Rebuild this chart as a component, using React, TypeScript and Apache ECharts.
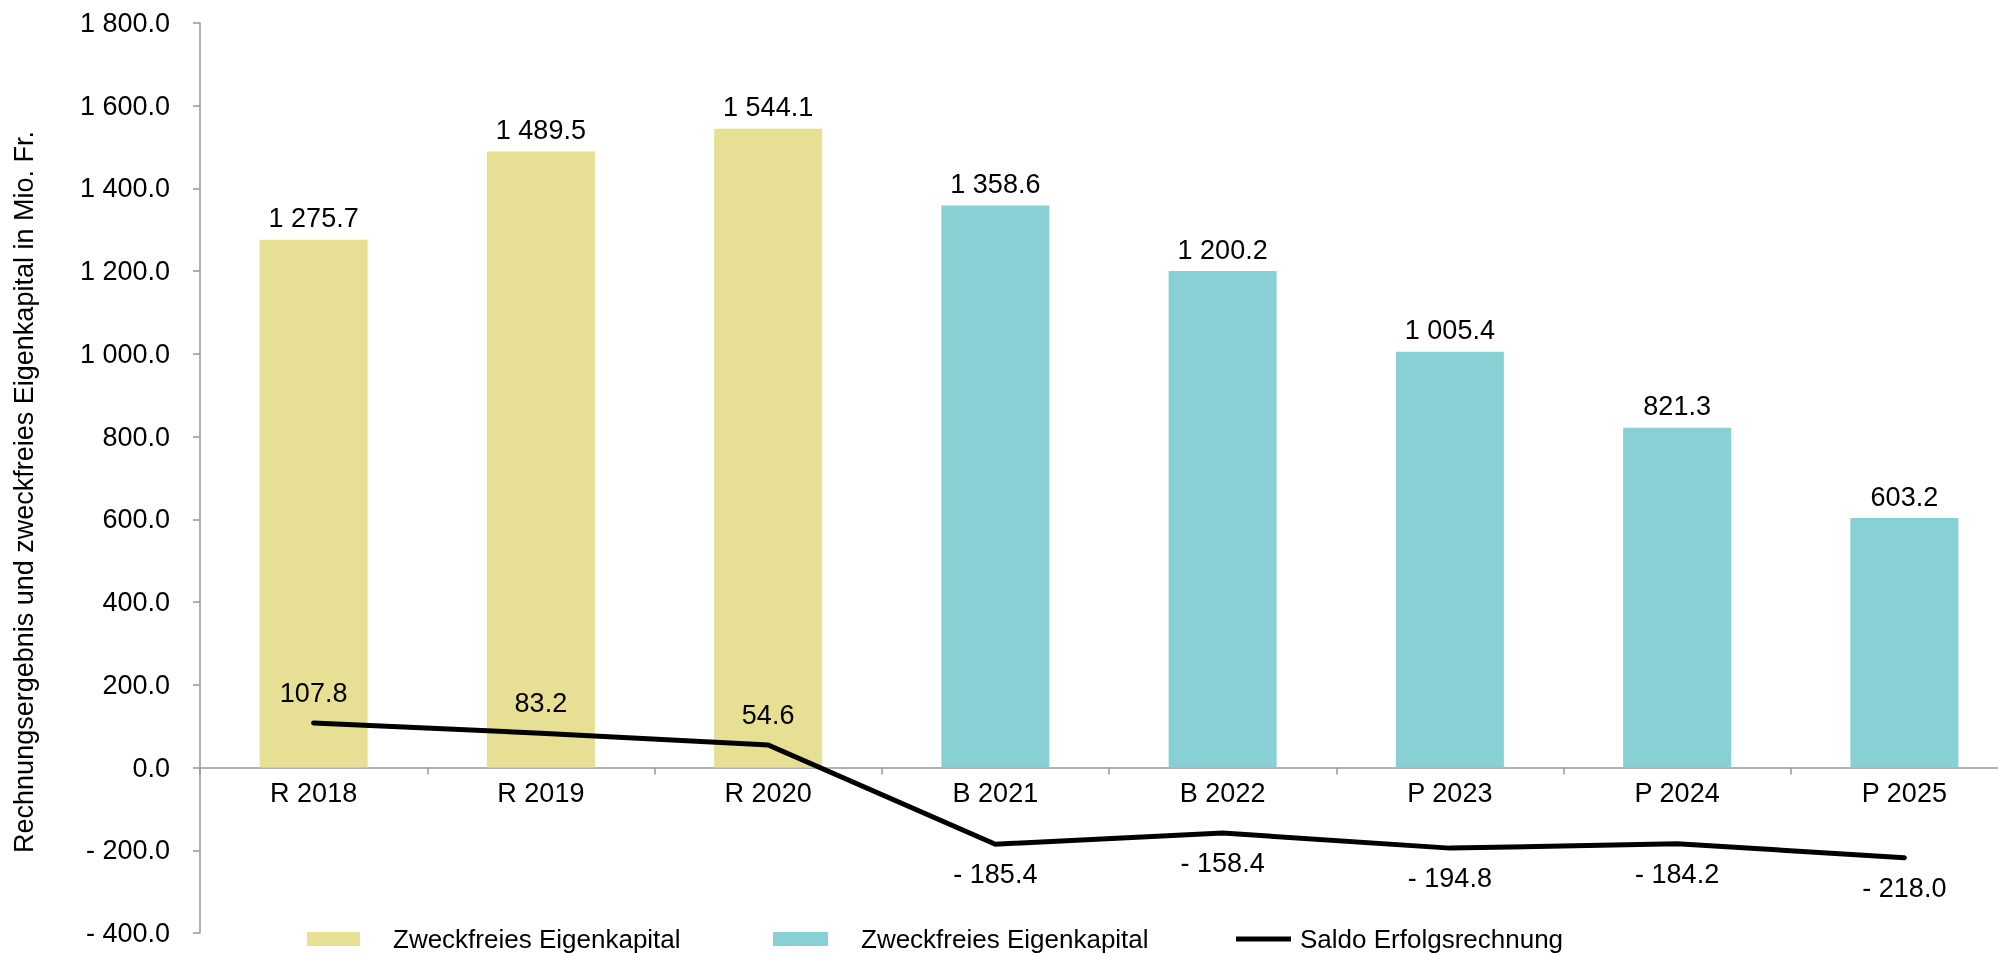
import React, { useEffect, useRef } from "react";
import * as echarts from "echarts";

const categories = ["R 2018", "R 2019", "R 2020", "B 2021", "B 2022", "P 2023", "P 2024", "P 2025"];
const eigenkapitalR = [1275.7, 1489.5, 1544.1, null, null, null, null, null];
const eigenkapitalBP = [null, null, null, 1358.6, 1200.2, 1005.4, 821.3, 603.2];
const saldo = [107.8, 83.2, 54.6, -185.4, -158.4, -194.8, -184.2, -218.0];
const yTicks = { min: -400, max: 1800, interval: 200 };
const yTitle = "Rechnungsergebnis und zweckfreies Eigenkapital in Mio. Fr.";

const FONT = "'Liberation Sans', Arial, sans-serif";
const FS = 27;

function fmt(v: number): string {
  const s = Math.abs(v).toFixed(1);
  const [i, d] = s.split(".");
  const ii = i.replace(/\B(?=(\d{3})+(?!\d))/g, " ");
  return (v < 0 ? "- " : "") + ii + "." + d;
}

export default function App() {
  const ref = useRef<HTMLDivElement>(null);
  useEffect(() => {
    if (!ref.current) return;
    const chart = echarts.init(ref.current, undefined, { renderer: "svg" });
    const yellow = "#E6DF94";
    const teal = "#87D0D4";
    const H = 953;
    const top = 23;
    const bottom = 20;
    const plotH = H - top - bottom;
    const zeroFromBottom = ((0 - yTicks.min) / (yTicks.max - yTicks.min)) * plotH;
    const legendText = { fontFamily: FONT, fontSize: 26, color: "#000", padding: [0, 0, 0, 28], lineHeight: 26 };
    const legendFmt = (n: string) => (n.startsWith("Zweckfreies") ? "Zweckfreies Eigenkapital" : n);
    const legendBase = { top: 926, padding: 0, selectedMode: false, textStyle: legendText, formatter: legendFmt };
    chart.setOption({
      animation: false,
      textStyle: { fontFamily: FONT },
      grid: { left: 200, right: -20, top, bottom, containLabel: false, outerBoundsMode: "none" },
      graphic: [
        {
          type: "text",
          x: 24,
          y: 492,
          rotation: Math.PI / 2,
          style: {
            text: yTitle,
            fill: "#000",
            font: `27px ${FONT}`,
            textAlign: "center",
            textVerticalAlign: "middle",
          },
        },
      ],
      legend: [
        {
          ...legendBase,
          data: [{ name: "Zweckfreies Eigenkapital R", icon: "rect" }],
          left: 307, itemWidth: 53, itemHeight: 14,
        },
        {
          ...legendBase,
          data: [{ name: "Zweckfreies Eigenkapital BP", icon: "rect" }],
          left: 773, itemWidth: 55, itemHeight: 14,
        },
        {
          ...legendBase,
          data: [{ name: "Saldo Erfolgsrechnung", icon: "rect" }],
          left: 1236, itemWidth: 55, itemHeight: 5,
          textStyle: { ...legendText, padding: [0, 0, 0, 4] },
        },
      ],
      xAxis: {
        type: "category",
        data: categories,
        position: "bottom",
        offset: -zeroFromBottom,
        axisLine: { onZero: false, lineStyle: { color: "#999", width: 1.5 } },
        axisTick: { show: true, inside: false, length: 7, alignWithLabel: false, lineStyle: { color: "#999", width: 1.5 } },
        axisLabel: { color: "#000", fontSize: FS, fontFamily: FONT, margin: 12 },
        splitLine: { show: false },
      },
      yAxis: {
        type: "value",
        min: yTicks.min,
        max: yTicks.max,
        interval: yTicks.interval,
        axisLine: { show: true, lineStyle: { color: "#999", width: 1.5 } },
        axisTick: { show: true, length: 7, lineStyle: { color: "#999", width: 1.5 } },
        axisLabel: { color: "#000", fontSize: FS, fontFamily: FONT, margin: 30, formatter: (v: number) => fmt(v) },
        splitLine: { show: false },
      },
      series: [
        {
          name: "Zweckfreies Eigenkapital R",
          type: "bar",
          data: eigenkapitalR,
          barWidth: 108,
          barGap: "-100%",
          itemStyle: { color: yellow },
          label: { show: true, position: "top", distance: 8, color: "#000", fontSize: FS, fontFamily: FONT, formatter: (p: any) => fmt(p.value) },
        },
        {
          name: "Zweckfreies Eigenkapital BP",
          type: "bar",
          data: eigenkapitalBP,
          barWidth: 108,
          barGap: "-100%",
          itemStyle: { color: teal },
          label: { show: true, position: "top", distance: 8, color: "#000", fontSize: FS, fontFamily: FONT, formatter: (p: any) => fmt(p.value) },
        },
        {
          name: "Saldo Erfolgsrechnung",
          type: "line",
          data: saldo.map((v) => ({
            value: v,
            label: { position: v < 0 ? "bottom" : "top" },
          })),
          symbol: "circle",
          symbolSize: 1,
          showSymbol: true,
          lineStyle: { color: "#000", width: 5, cap: "round", join: "miter" },
          itemStyle: { color: "#000" },
          label: { show: true, distance: 16, color: "#000", fontSize: FS, fontFamily: FONT, formatter: (p: any) => fmt(p.value) },
          z: 5,
        },
      ],
    });
    return () => chart.dispose();
  }, []);
  return <div ref={ref} style={{ position: "fixed", left: 0, top: 0, width: 1998, height: 953 }} />;
}
